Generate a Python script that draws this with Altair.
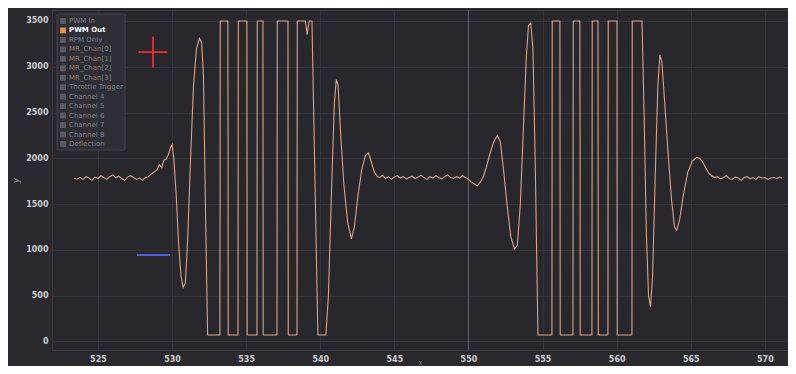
import altair as alt
import pandas as pd

# ---- data ----
t_vals = [
    523.4, 523.6, 523.8, 524.0, 524.2, 524.4, 524.6, 524.8, 525.0, 525.2, 525.4, 525.6, 525.8,
    526.0, 526.2, 526.4, 526.6, 526.8, 527.0, 527.2, 527.4, 527.6, 527.8, 528.0, 528.2, 528.4, 528.6,
    528.8, 529.0, 529.15, 529.3, 529.45, 529.6, 529.75, 529.9, 530.0, 530.12, 530.28, 530.45, 530.6,
    530.75, 530.9, 531.05, 531.25, 531.45, 531.65, 531.85, 532.0, 532.12, 532.25, 532.4,
    533.23, 533.25, 533.77, 533.79, 534.45, 534.47, 535.05, 535.07, 535.73, 535.75, 536.13, 536.15,
    537.08, 537.10, 537.82, 537.84, 538.43, 538.45, 539.0, 539.12, 539.25, 539.44, 539.84, 540.38,
    540.55, 540.75, 540.95, 541.08, 541.2, 541.4, 541.6, 541.85, 542.1, 542.3, 542.55, 542.8, 543.05,
    543.25, 543.45, 543.65, 543.85,
    544.0, 544.2, 544.4, 544.6, 544.8, 545.0, 545.2, 545.4, 545.6, 545.8, 546.0, 546.2, 546.4, 546.6,
    546.8, 547.0, 547.2, 547.4, 547.6, 547.8, 548.0, 548.2, 548.4, 548.6, 548.8, 549.0, 549.2, 549.4,
    549.6, 549.8, 550.0, 550.2, 550.4, 550.6, 550.8,
    551.0, 551.2, 551.45, 551.7, 551.95, 552.15, 552.35, 552.6, 552.85, 553.1, 553.3, 553.5, 553.7,
    553.9, 554.05, 554.2, 554.35, 554.5, 554.69,
    555.63, 555.65, 556.17, 556.19, 557.05, 557.07, 557.52, 557.54, 558.33, 558.35, 558.74, 558.76,
    559.41, 559.43, 560.02, 560.04, 561.03, 561.05, 561.71,
    561.85, 562.0, 562.15, 562.28, 562.42, 562.6, 562.78, 562.92, 563.05, 563.2, 563.45, 563.7, 563.9,
    564.05, 564.25, 564.5, 564.8, 565.1, 565.4, 565.6, 565.8, 566.0, 566.2,
    566.4, 566.6, 566.8, 567.0, 567.2, 567.4, 567.6, 567.8, 568.0, 568.2, 568.4, 568.6, 568.8, 569.0,
    569.2, 569.4, 569.6, 569.8, 570.0, 570.2, 570.4, 570.6, 570.8, 571.0, 571.15,
]
v_vals = [
    1780, 1775, 1790, 1770, 1800, 1785, 1760, 1795, 1780, 1810, 1790, 1770, 1800,
    1820, 1790, 1805, 1780, 1760, 1795, 1810, 1790, 1770, 1785, 1760, 1790, 1800, 1830,
    1850, 1880, 1930, 1900, 1980, 1990, 2040, 2120, 2150, 2000, 1600, 1050, 720,
    590, 640, 1100, 2000, 2800, 3200, 3310, 3260, 2900, 1500, 70,
    70, 3500, 3500, 70, 70, 3500, 3500, 70, 70, 3500, 3500, 70,
    70, 3500, 3500, 70, 70, 3500, 3500, 3350, 3500, 3500, 70, 70,
    500, 1600, 2600, 2860, 2800, 2200, 1700, 1300, 1120, 1250, 1600, 1880, 2030,
    2060, 1960, 1850, 1800,
    1790, 1815, 1780, 1800, 1770, 1795, 1810, 1785, 1800, 1775, 1790, 1805, 1780, 1795,
    1815, 1790, 1770, 1800, 1785, 1810, 1790, 1775, 1800, 1820, 1790, 1780, 1800, 1785,
    1810, 1790, 1770, 1740, 1720, 1700, 1740,
    1800, 1900, 2050, 2180, 2250, 2180, 1900, 1500, 1150, 1010, 1050, 1500, 2300,
    3100, 3450, 3480, 3200, 2000, 70,
    70, 3500, 3500, 70, 70, 3500, 3500, 70, 70, 3500, 3500, 70,
    70, 3500, 3500, 70, 70, 3500, 3500,
    2500, 1200, 500, 380, 700, 1800, 2800, 3130, 3050, 2700, 2100, 1550, 1250,
    1215, 1330, 1600, 1850, 1970, 2010, 2000, 1960, 1900, 1840,
    1810, 1790, 1800, 1775, 1790, 1810, 1780, 1770, 1795, 1785, 1760, 1790, 1800, 1775,
    1790, 1770, 1800, 1785, 1790, 1770, 1785, 1790, 1780, 1795, 1785,
]

x_ticks = [525, 530, 535, 540, 545, 550, 555, 560, 565, 570]
y_ticks = [0, 500, 1000, 1500, 2000, 2500, 3000, 3500]
x_domain = [521.9, 571.56]
y_domain = [-93, 3620]

cursor_t = [550]

cross_t = [528.71]
cross_half_t = [0.98]
cross_v = [3161]
cross_half_v = [170]

blue_t0 = [527.63]
blue_t1 = [529.86]
blue_v = [945]

legend_names = [
    "PWM In", "PWM Out", "RPM Only", "MR_Chan[0]", "MR_Chan[1]", "MR_Chan[2]",
    "MR_Chan[3]", "Throttle Trigger", "Channel 4", "Channel 5", "Channel 6",
    "Channel 7", "Channel 8", "Deflection",
]
active_name = "PWM Out"

# ---- tables ----
line_df = pd.DataFrame({"t": t_vals, "v": v_vals, "series": active_name})
cursor_df = pd.DataFrame({"t": cursor_t})
cross_df = pd.DataFrame({
    "t": cross_t, "v": cross_v,
    "t0": [a - b for a, b in zip(cross_t, cross_half_t)],
    "t1": [a + b for a, b in zip(cross_t, cross_half_t)],
    "v0": [a - b for a, b in zip(cross_v, cross_half_v)],
    "v1": [a + b for a, b in zip(cross_v, cross_half_v)],
})
blue_df = pd.DataFrame({"t0": blue_t0, "t1": blue_t1, "v": blue_v})
legend_df = pd.DataFrame({"name": legend_names, "rank": list(range(len(legend_names)))})

FONT = "DejaVu Sans"
xs = alt.Scale(domain=x_domain, nice=False, zero=False)
ys = alt.Scale(domain=y_domain, nice=False, zero=False)

x_axis = alt.Axis(values=x_ticks, format="d", labelColor="#cfcfd3", labelFontSize=8,
                  labelFontWeight="bold", labelFont=FONT, grid=True, gridColor="#33333a",
                  ticks=False, domain=False, labelPadding=5, title="x", titleColor="#8a8a90",
                  titleFontSize=7, titleFontWeight="normal", titleY=15, titleBaseline="bottom")
y_axis = alt.Axis(values=y_ticks, format="d", labelColor="#cfcfd3", labelFontSize=8,
                  labelFontWeight="bold", labelFont=FONT, grid=True, gridColor="#33333a",
                  ticks=False, domain=False, labelPadding=4, title="y", titleColor="#9a9aa0",
                  titleFontSize=9, titleFontWeight="normal", titleFontStyle="italic", titlePadding=5)

cursor = alt.Chart(cursor_df).mark_rule(color="#616167", strokeWidth=1).encode(
    x=alt.X("t:Q", scale=xs, axis=x_axis)
)

line = alt.Chart(line_df).mark_line(color="#d9a48a", strokeWidth=1.1, clip=True).encode(
    x=alt.X("t:Q", scale=xs, axis=x_axis),
    y=alt.Y("v:Q", scale=ys, axis=y_axis),
)

cross_h = alt.Chart(cross_df).mark_rule(color="#ec2a36", strokeWidth=1.8).encode(
    x=alt.X("t0:Q", scale=xs), x2="t1:Q", y=alt.Y("v:Q", scale=ys)
)
cross_v_rule = alt.Chart(cross_df).mark_rule(color="#ec2a36", strokeWidth=1.8).encode(
    x=alt.X("t:Q", scale=xs), y=alt.Y("v0:Q", scale=ys), y2="v1:Q"
)
blue = alt.Chart(blue_df).mark_rule(color="#4f5fe0", strokeWidth=2).encode(
    x=alt.X("t0:Q", scale=xs), x2="t1:Q", y=alt.Y("v:Q", scale=ys)
)

main = alt.layer(cursor, line, cross_h, cross_v_rule, blue)

# legend drawn inside the plot
box = alt.Chart(pd.DataFrame({"k": [0]})).mark_rect(
    fill="#2f2f35", stroke="#44444a", strokeWidth=1, opacity=0.95
).encode(x=alt.value(5), x2=alt.value(73), y=alt.value(4), y2=alt.value(140))

ly = alt.Y("rank:O", axis=None, scale=alt.Scale(type="point", range=[11, 134], padding=0))

swatch = alt.Chart(legend_df).mark_square(size=34, opacity=1).encode(
    x=alt.value(11),
    y=ly,
    color=alt.condition(f"datum.name == '{active_name}'", alt.value("#e8904a"), alt.value("#5a5a60")),
)
labels = alt.Chart(legend_df).transform_filter(f"datum.name != '{active_name}'").mark_text(
    align="left", baseline="middle", fontSize=7, font=FONT, color="#808086"
).encode(x=alt.value(17), y=ly, text="name:N")
label_active = alt.Chart(legend_df).transform_filter(f"datum.name == '{active_name}'").mark_text(
    align="left", baseline="middle", fontSize=7, font=FONT, color="#ffffff", fontWeight="bold"
).encode(x=alt.value(17), y=ly, text="name:N")

legend = alt.layer(box, swatch, labels, label_active)

chart = alt.layer(main, legend).resolve_scale(y="independent", x="independent").properties(
    width=736,
    height=340,
    autosize=alt.AutoSizeParams(type="none"),
    padding={"left": 44, "top": 2, "right": 0, "bottom": 16},
    background="#2a2a2e",
).configure_view(fill="#28282c", stroke="#38383e")

chart.save("out.html", embed_options={"renderer": "svg", "actions": False})
